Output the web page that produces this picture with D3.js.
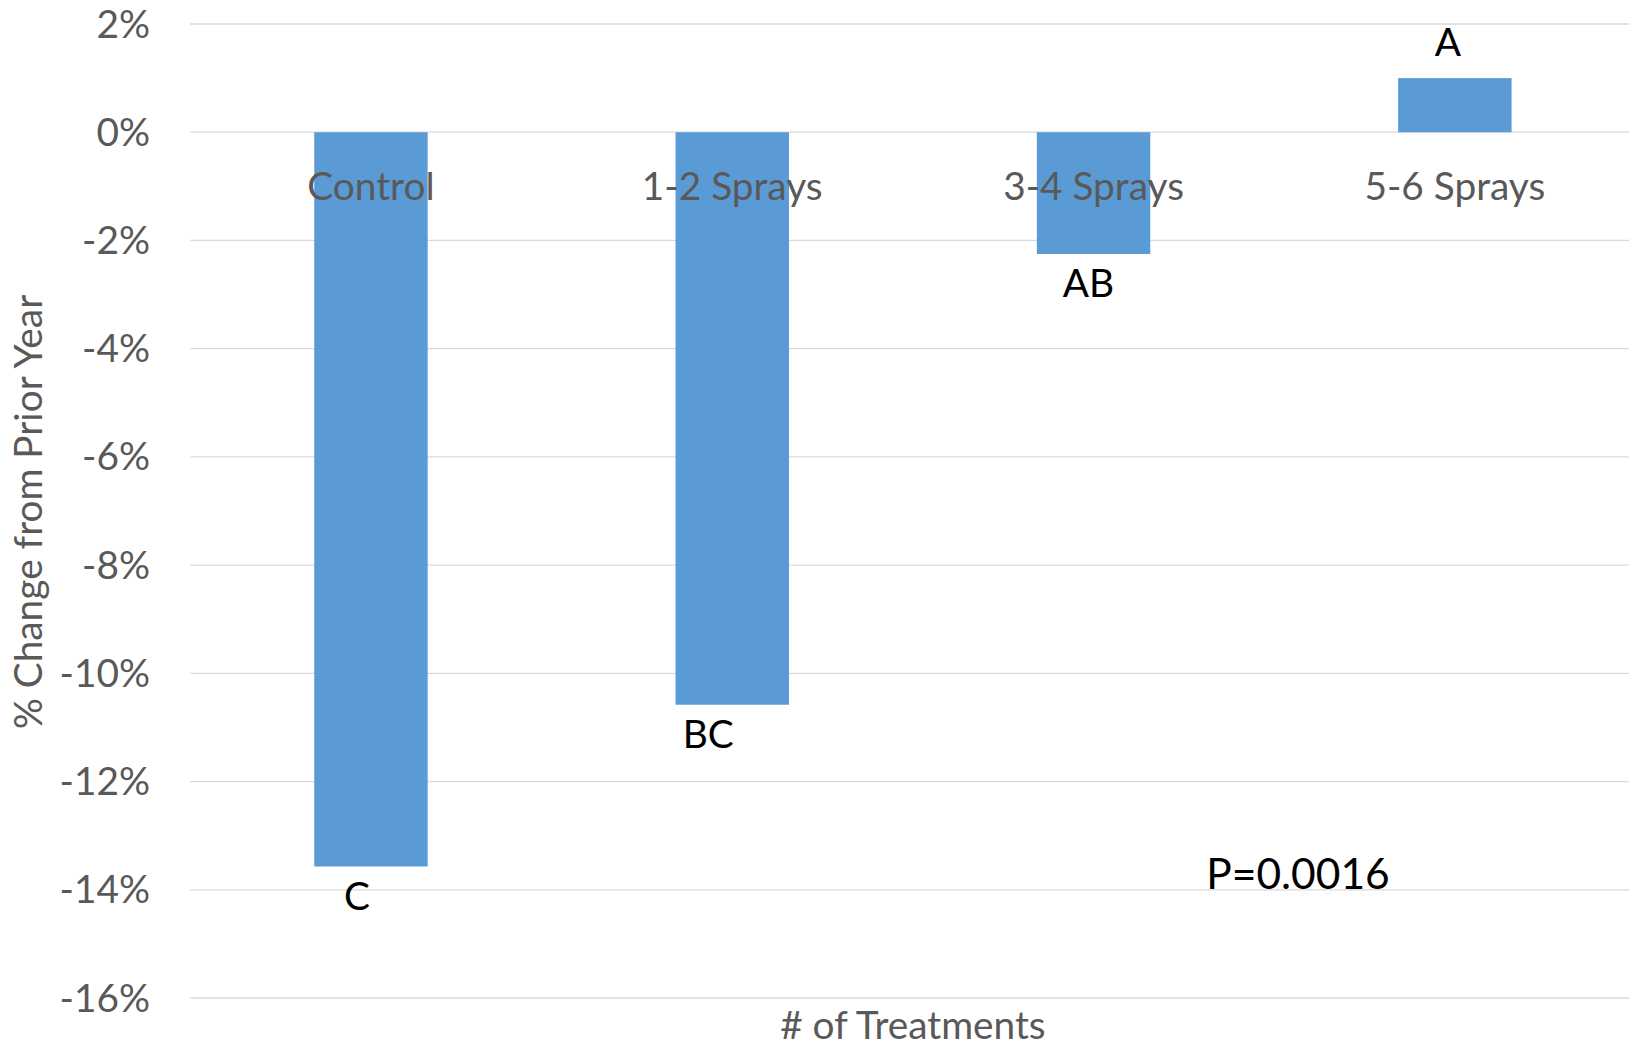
<!DOCTYPE html>
<html>
<head>
<meta charset="utf-8">
<script src="https://cdn.jsdelivr.net/npm/d3@7"></script>
<style>
  html, body { margin: 0; padding: 0; background: #ffffff; }
  svg { display: block; font-family: Lato, "Open Sans", sans-serif; }
</style>
</head>
<body>
<svg id="chart" width="1629" height="1049"></svg>
<script>
// ---- data ----
const categories = ["Control", "1-2 Sprays", "3-4 Sprays", "5-6 Sprays"];
const changePct = [-13.57, -10.58, -2.25, 1.0];
const letters = ["C", "BC", "AB", "A"];
const yTicks = [2, 0, -2, -4, -6, -8, -10, -12, -14, -16];
const yTickLabels = ["2%", "0%", "-2%", "-4%", "-6%", "-8%", "-10%", "-12%", "-14%", "-16%"];
const pValueText = "P=0.0016";
const yTitle = "% Change from Prior Year";
const xTitle = "# of Treatments";

// ---- layout / style ----
const W = 1629, H = 1049;
const plot = { left: 190.3, right: 1635.5, top: 24, bottom: 998 };
const letterNudge = [-14, -24, -5, -7];
const barColor = "#5b9bd5";
const gridColor = "#d9d9d9";
const axisText = "#595959";
const fs = 38.8;

const svg = d3.select("#chart");

const x = d3.scaleBand()
  .domain(categories)
  .range([plot.left, plot.right])
  .paddingInner(0.686)
  .paddingOuter(0.343);

const y = d3.scaleLinear()
  .domain([-16, 2])
  .range([plot.bottom, plot.top]);

// gridlines
svg.append("g")
  .selectAll("line")
  .data(yTicks)
  .join("line")
  .attr("x1", plot.left)
  .attr("x2", W)
  .attr("y1", d => y(d))
  .attr("y2", d => y(d))
  .attr("stroke", gridColor)
  .attr("stroke-width", 1.3);

// y tick labels
svg.append("g")
  .selectAll("text")
  .data(yTicks)
  .join("text")
  .attr("x", 150)
  .attr("y", d => y(d) + 13.5)
  .attr("text-anchor", "end")
  .attr("fill", axisText)
  .attr("font-size", fs)
  .text((d, i) => yTickLabels[i]);

// bars
const rows = categories.map((c, i) => ({ c, v: changePct[i], l: letters[i], i }));
svg.append("g")
  .selectAll("rect")
  .data(rows)
  .join("rect")
  .attr("x", d => x(d.c))
  .attr("width", x.bandwidth())
  .attr("y", d => y(Math.max(0, d.v)))
  .attr("height", d => Math.abs(y(d.v) - y(0)))
  .attr("fill", barColor);

// category labels (drawn over bars)
svg.append("g")
  .selectAll("text")
  .data(categories)
  .join("text")
  .attr("x", d => x(d) + x.bandwidth() / 2)
  .attr("y", y(0) + 68)
  .attr("text-anchor", "middle")
  .attr("fill", axisText)
  .attr("font-size", fs)
  .text(d => d);

// significance letters
svg.append("g")
  .selectAll("text")
  .data(rows)
  .join("text")
  .attr("x", d => x(d.c) + x.bandwidth() / 2 + letterNudge[d.i])
  .attr("y", d => d.v < 0 ? y(d.v) + 43 : y(d.v) - 22)
  .attr("text-anchor", "middle")
  .attr("fill", "#000000")
  .attr("font-size", fs)
  .text(d => d.l);

// p-value annotation
svg.append("text")
  .attr("x", 1298)
  .attr("y", y(-14) - 1)
  .attr("text-anchor", "middle")
  .attr("fill", "#000000")
  .attr("font-size", 42.5)
  .text(pValueText);

// axis titles
svg.append("text")
  .attr("transform", `translate(42,512) rotate(-90)`)
  .attr("text-anchor", "middle")
  .attr("fill", axisText)
  .attr("font-size", fs)
  .text(yTitle);

svg.append("text")
  .attr("x", (plot.left + plot.right) / 2)
  .attr("y", 1039)
  .attr("text-anchor", "middle")
  .attr("fill", axisText)
  .attr("font-size", fs)
  .text(xTitle);
</script>
</body>
</html>
